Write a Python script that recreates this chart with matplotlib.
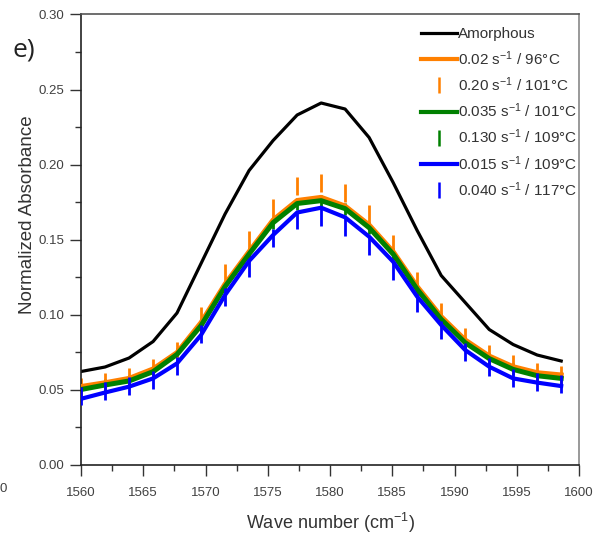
import matplotlib
matplotlib.use("Agg")
import matplotlib.pyplot as plt
from matplotlib.ticker import MultipleLocator, FormatStrFormatter

plt.rcParams['font.family'] = ['Liberation Sans', 'DejaVu Sans']
plt.rcParams['mathtext.fontset'] = 'custom'
plt.rcParams['mathtext.rm'] = 'Liberation Sans'
plt.rcParams['mathtext.it'] = 'Liberation Sans:italic'

# wave numbers (cm-1)
wavenumber = [1560.00, 1561.93, 1563.86, 1565.79, 1567.71, 1569.64, 1571.57,
              1573.50, 1575.43, 1577.36, 1579.29, 1581.21, 1583.14, 1585.07,
              1587.00, 1588.93, 1590.86, 1592.79, 1594.71, 1596.64, 1598.57]

amorphous = [0.062, 0.065, 0.071, 0.082, 0.101, 0.134, 0.167, 0.196, 0.216, 0.233, 0.241,
             0.237, 0.218, 0.188, 0.156, 0.126, 0.108, 0.090, 0.080, 0.073, 0.069]
s002_96 = [0.0520, 0.0545, 0.0574, 0.0637, 0.0746, 0.0946, 0.1203, 0.1419, 0.1630, 0.1760, 0.1781,
           0.1723, 0.1597, 0.1419, 0.1186, 0.0986, 0.0830, 0.0723, 0.0652, 0.0612, 0.0597]
s020_101 = [0.0520, 0.0549, 0.0585, 0.0645, 0.0755, 0.0989, 0.1278, 0.1500, 0.1713, 0.1858, 0.1875,
            0.1808, 0.1670, 0.1467, 0.1225, 0.1016, 0.0848, 0.0735, 0.0668, 0.0617, 0.0598]
s0035_101 = [0.0500, 0.0530, 0.0557, 0.0619, 0.0734, 0.0926, 0.1186, 0.1403, 0.1612, 0.1740, 0.1759,
             0.1706, 0.1579, 0.1403, 0.1168, 0.0968, 0.0812, 0.0706, 0.0634, 0.0592, 0.0574]
s0130_109 = [0.0500, 0.0530, 0.0557, 0.0619, 0.0734, 0.0926, 0.1186, 0.1403, 0.1612, 0.1740, 0.1759,
             0.1706, 0.1579, 0.1403, 0.1168, 0.0968, 0.0812, 0.0706, 0.0634, 0.0592, 0.0574]
s0015_109 = [0.0438, 0.0480, 0.0519, 0.0574, 0.0674, 0.0863, 0.1130, 0.1357, 0.1530, 0.1680, 0.1712,
             0.1648, 0.1519, 0.1352, 0.1119, 0.0930, 0.0763, 0.0652, 0.0574, 0.0546, 0.0523]
s0040_117 = [0.0460, 0.0490, 0.0523, 0.0565, 0.0658, 0.0870, 0.1119, 0.1308, 0.1513, 0.1630, 0.1647,
             0.1585, 0.1455, 0.1293, 0.1075, 0.0897, 0.0747, 0.0652, 0.0580, 0.0547, 0.0535]

ORANGE = '#FF8000'
GREEN = '#008000'
BLUE = '#0000FF'

fig = plt.figure(figsize=(6.01, 5.39), dpi=100)
ax = fig.add_axes([0.1348, 0.1382, 0.8286, 0.8349])

tick_ms = 13.5
# green markers sit underneath the curves, as in the original
ax.plot(wavenumber, s0130_109, ls='none', marker='|', ms=9, mew=2, color=GREEN, zorder=1)
ax.plot(wavenumber, amorphous, color='black', lw=2.3, zorder=2)
ax.plot(wavenumber, s020_101, ls='none', marker='|', ms=tick_ms, mew=2, color=ORANGE, zorder=2)
ax.plot(wavenumber, s002_96, color=ORANGE, lw=3.6, zorder=3)
ax.plot(wavenumber, s0035_101, color=GREEN, lw=3.6, zorder=4)
ax.plot(wavenumber, s0015_109, color=BLUE, lw=3.0, zorder=5)
ax.plot(wavenumber, s0040_117, ls='none', marker='|', ms=tick_ms, mew=2, color=BLUE, zorder=6)

# legend handles (same order as the reference)
h_am, = ax.plot([], [], color='black', lw=2.3)
h_o, = ax.plot([], [], color=ORANGE, lw=3.0)
h_om, = ax.plot([], [], ls='none', marker='|', ms=11, mew=1.8, color=ORANGE)
h_g, = ax.plot([], [], color=GREEN, lw=3.0)
h_gm, = ax.plot([], [], ls='none', marker='|', ms=11, mew=1.8, color=GREEN)
h_b, = ax.plot([], [], color=BLUE, lw=3.0)
h_bm, = ax.plot([], [], ls='none', marker='|', ms=11, mew=1.8, color=BLUE)
labels = ['Amorphous',
          '0.02 s$^{-1}$ / 96°C',
          '0.20 s$^{-1}$ / 101°C',
          '0.035 s$^{-1}$ / 101°C',
          '0.130 s$^{-1}$ / 109°C',
          '0.015 s$^{-1}$ / 109°C',
          '0.040 s$^{-1}$ / 117°C']
leg = ax.legend([h_am, h_o, h_om, h_g, h_gm, h_b, h_bm], labels,
                loc='upper left', bbox_to_anchor=(0.67, 0.985), frameon=False,
                fontsize=11, handlelength=2.35, handletextpad=0.1,
                labelspacing=0.5, borderaxespad=0.0)
for t in leg.get_texts():
    t.set_color('#333333')

ax.set_xlim(1560, 1600)
ax.set_ylim(0.0, 0.30)
ax.xaxis.set_major_locator(MultipleLocator(5))
ax.xaxis.set_minor_locator(MultipleLocator(2.5))
ax.yaxis.set_major_locator(MultipleLocator(0.05))
ax.yaxis.set_minor_locator(MultipleLocator(0.025))
ax.yaxis.set_major_formatter(FormatStrFormatter('%.2f'))

ax.tick_params(which='major', direction='out', length=8, width=1.0, colors='#333333',
               labelsize=9.5, pad=4)
ax.tick_params(which='minor', direction='out', length=4, width=1.0, colors='#333333')
ax.tick_params(axis='x', which='major', pad=8)
for lbl in ax.get_xticklabels() + ax.get_yticklabels():
    lbl.set_color('#404040')

ax.spines['left'].set_color('#222222')
ax.spines['bottom'].set_color('#222222')
ax.spines['top'].set_color('#555555')
ax.spines['right'].set_color('#888888')
for s in ax.spines.values():
    s.set_linewidth(1.2)

ax.set_xlabel('Wave number (cm$^{-1}$)', fontsize=13, color='#333333', labelpad=9)
ax.set_ylabel('Normalized Absorbance', fontsize=13.5, color='#333333')
ax.yaxis.set_label_coords(-0.09, 0.555)

fig.text(0.02, 0.907, 'e)', fontsize=19, color='#222222',
         family=['Open Sans', 'DejaVu Sans'], va='center', ha='left')
fig.text(0.0, 0.093, '0', fontsize=9.5, color='#404040', va='center', ha='left')

fig.savefig('out.png', dpi=100)
